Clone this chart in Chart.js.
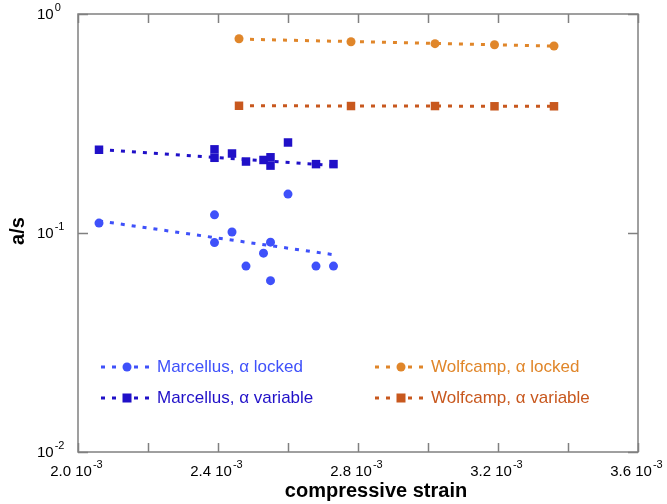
<!DOCTYPE html>
<html>
<head>
<meta charset="utf-8">
<script src="https://cdn.jsdelivr.net/npm/chart.js@4.4.1/dist/chart.umd.min.js"></script>
<style>
  html, body { margin: 0; padding: 0; background: #fff; }
</style>
</head>
<body>
<canvas id="myChart" width="667" height="504"></canvas>
<script>
// strain values are in units of 10^-3
const marcStrain = [2.06, 2.39, 2.39, 2.44, 2.48, 2.53, 2.55, 2.55, 2.60, 2.68, 2.73];
const marcLocked = [0.111, 0.121, 0.0904, 0.101, 0.0706, 0.0809, 0.0908, 0.0606, 0.1505, 0.0706, 0.0706];
const marcVariable = [0.240, 0.241, 0.2205, 0.2307, 0.212, 0.2155, 0.2217, 0.2031, 0.259, 0.2063, 0.2063];

const wolfStrain = [2.46, 2.78, 3.02, 3.19, 3.36];
const wolfLocked = [0.771, 0.747, 0.732, 0.724, 0.714];
const wolfVariable = [0.381, 0.380, 0.380, 0.379, 0.379];

// trend line end points
const marcFitX = [2.06, 2.73];
const marcLockedFit = [0.1135, 0.0796];
const marcVariableFit = [0.2405, 0.2033];
const wolfFitX = [2.46, 3.36];
const wolfLockedFit = [0.768, 0.714];
const wolfVariableFit = [0.381, 0.379];

const seriesLabels = ['Marcellus, \u03b1 locked', 'Marcellus, \u03b1 variable', 'Wolfcamp, \u03b1 locked', 'Wolfcamp, \u03b1 variable'];
const seriesColors = ['#3f51fa', '#2010c8', '#e0862a', '#c8581e'];
const seriesShapes = ['circle', 'rect', 'circle', 'rect'];

const xTicks = [2.0, 2.2, 2.4, 2.6, 2.8, 3.0, 3.2, 3.4, 3.6];
const xTickLabels = ['2.0', '', '2.4', '', '2.8', '', '3.2', '', '3.6'];
const xExponent = '-3';
const yTicks = [1, 0.1, 0.01];
const yExponents = ['0', '-1', '-2'];

const xTitle = 'compressive strain';
const yTitle = 'a/s';

const FONT = '"Liberation Sans", Arial, sans-serif';

function pts(xs, ys) {
    return xs.map(function(x, i) { return { x: x, y: ys[i] }; });
}

function markerSet(i, xs, ys) {
    return {
        label: seriesLabels[i],
        data: pts(xs, ys),
        showLine: false,
        pointStyle: seriesShapes[i],
        pointRadius: seriesShapes[i] === 'rect' ? 6 : 4.5,
        pointBackgroundColor: seriesColors[i],
        pointBorderWidth: 0,
        order: 1
    };
}

function fitSet(i, xs, ys) {
    return {
        label: seriesLabels[i] + ' fit',
        data: pts(xs, ys),
        showLine: true,
        borderColor: seriesColors[i],
        borderWidth: 3,
        borderDash: [4, 7],
        pointRadius: 0,
        fill: false,
        order: 2
    };
}

// draws the frame, inward ticks, tick labels with superscripts, titles and the legend
const decorPlugin = {
    id: 'decor',
    afterDraw(chart) {
        const ctx = chart.ctx;
        const area = chart.chartArea;
        const xs = chart.scales.x;
        const ys = chart.scales.y;
        ctx.save();

        // frame
        ctx.strokeStyle = '#808080';
        ctx.lineWidth = 1.5;
        ctx.strokeRect(area.left, area.top, area.right - area.left, area.bottom - area.top);

        // ticks
        ctx.beginPath();
        xTicks.forEach(function(v) {
            const px = Math.round(xs.getPixelForValue(v)) + 0.5;
            ctx.moveTo(px, area.bottom);
            ctx.lineTo(px, area.bottom - 9);
            ctx.moveTo(px, area.top);
            ctx.lineTo(px, area.top + 9);
        });
        yTicks.forEach(function(v) {
            const py = Math.round(ys.getPixelForValue(v)) + 0.5;
            ctx.moveTo(area.left, py);
            ctx.lineTo(area.left + 10, py);
            ctx.moveTo(area.right, py);
            ctx.lineTo(area.right - 10, py);
        });
        ctx.stroke();

        // x tick labels
        ctx.fillStyle = '#000';
        ctx.textBaseline = 'alphabetic';
        ctx.textAlign = 'left';
        xTicks.forEach(function(v, i) {
            if (!xTickLabels[i]) return;
            const base = xTickLabels[i] + ' 10';
            ctx.font = '15px ' + FONT;
            const wb = ctx.measureText(base).width;
            ctx.font = '11px ' + FONT;
            const we = ctx.measureText(xExponent).width;
            const start = xs.getPixelForValue(v) - (wb + we) / 2 - 2;
            ctx.font = '15px ' + FONT;
            ctx.fillText(base, start, 476);
            ctx.font = '11px ' + FONT;
            ctx.fillText(xExponent, start + wb + 1, 468);
        });

        // y tick labels
        yTicks.forEach(function(v, i) {
            const py = ys.getPixelForValue(v);
            ctx.font = '15px ' + FONT;
            ctx.fillText('10', 37, py + 5);
            const wb = ctx.measureText('10').width;
            ctx.font = '11px ' + FONT;
            ctx.fillText(yExponents[i], 37 + wb + 1, py - 3);
        });

        // axis titles
        ctx.font = 'bold 20px ' + FONT;
        ctx.textAlign = 'center';
        ctx.fillText(xTitle, 376, 497);
        ctx.save();
        ctx.translate(24, 231);
        ctx.rotate(-Math.PI / 2);
        ctx.fillText(yTitle, 0, 0);
        ctx.restore();

        // legend
        const legendPos = [[101, 367], [101, 398], [375, 367], [375, 398]];
        ctx.font = '17px ' + FONT;
        ctx.textAlign = 'left';
        ctx.textBaseline = 'middle';
        seriesLabels.forEach(function(label, i) {
            const x0 = legendPos[i][0];
            const y0 = legendPos[i][1];
            ctx.strokeStyle = seriesColors[i];
            ctx.lineWidth = 3;
            ctx.setLineDash([4, 7]);
            ctx.beginPath();
            ctx.moveTo(x0, y0);
            ctx.lineTo(x0 + 52, y0);
            ctx.stroke();
            ctx.setLineDash([]);
            ctx.fillStyle = seriesColors[i];
            if (seriesShapes[i] === 'circle') {
                ctx.beginPath();
                ctx.arc(x0 + 26, y0, 4.5, 0, Math.PI * 2);
                ctx.fill();
            } else {
                ctx.fillRect(x0 + 26 - 4.5, y0 - 4.5, 9, 9);
            }
            ctx.fillText(label, x0 + 56, y0);
        });

        ctx.restore();
    }
};

const ctx = document.getElementById('myChart').getContext('2d');
const myChart = new Chart(ctx, {
    type: 'scatter',
    data: {
        datasets: [
            markerSet(0, marcStrain, marcLocked),
            markerSet(1, marcStrain, marcVariable),
            markerSet(2, wolfStrain, wolfLocked),
            markerSet(3, wolfStrain, wolfVariable),
            fitSet(0, marcFitX, marcLockedFit),
            fitSet(1, marcFitX, marcVariableFit),
            fitSet(2, wolfFitX, wolfLockedFit),
            fitSet(3, wolfFitX, wolfVariableFit)
        ]
    },
    options: {
        responsive: false,
        animation: false,
        devicePixelRatio: 1,
        layout: {
            padding: { left: 78, right: 29, top: 14, bottom: 52 }
        },
        plugins: {
            legend: { display: false },
            tooltip: { enabled: false }
        },
        scales: {
            x: { type: 'linear', min: 2.0, max: 3.6, display: false },
            y: { type: 'logarithmic', min: 0.01, max: 1, display: false }
        }
    },
    plugins: [decorPlugin]
});
</script>
</body>
</html>
